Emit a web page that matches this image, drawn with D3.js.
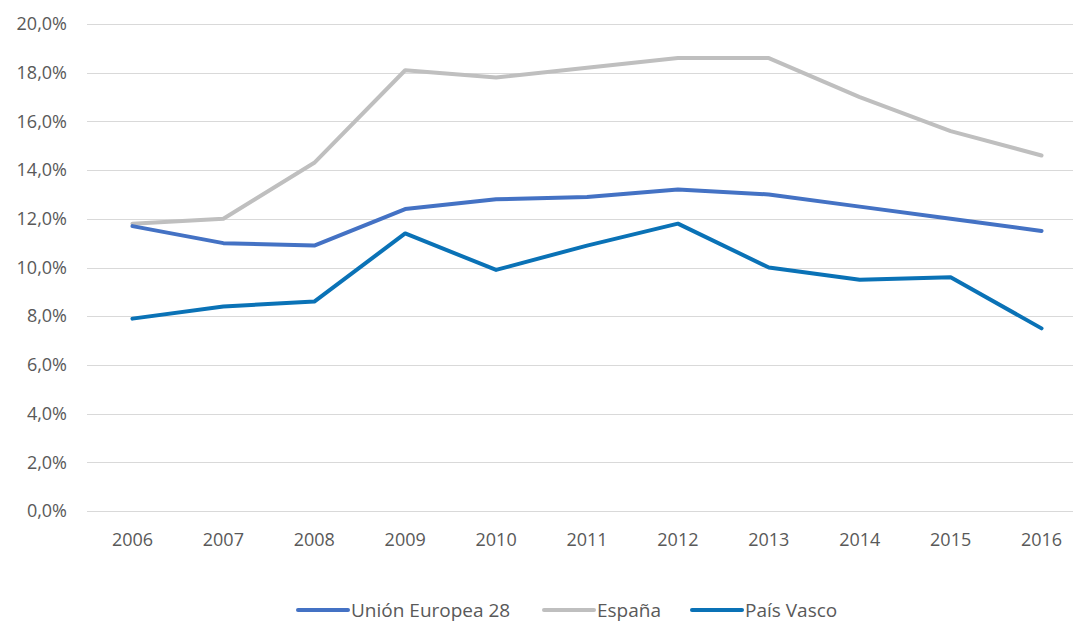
<!DOCTYPE html>
<html>
<head>
<meta charset="utf-8">
<script src="https://cdn.jsdelivr.net/npm/d3@7"></script>
<style>
    body { margin: 0; background: #fff; }
    svg { display: block; font-family: "Open Sans", "Noto Sans", sans-serif; }
</style>
</head>
<body>
<div id="chart"></div>
<script>
// Data (percent)
const years = ['2006', '2007', '2008', '2009', '2010', '2011', '2012', '2013', '2014', '2015', '2016'];
const unionEuropea = [11.7, 11.0, 10.9, 12.4, 12.8, 12.9, 13.2, 13.0, 12.5, 12.0, 11.5];
const espana = [11.8, 12.0, 14.3, 18.1, 17.8, 18.2, 18.6, 18.6, 17.0, 15.6, 14.6];
const paisVasco = [7.9, 8.4, 8.6, 11.4, 9.9, 10.9, 11.8, 10.0, 9.5, 9.6, 7.5];
const yTicks = [0, 2, 4, 6, 8, 10, 12, 14, 16, 18, 20];

const series = [
    { name: 'Unión Europea 28', values: unionEuropea, color: '#4472C4' },
    { name: 'España', values: espana, color: '#BFBFBF' },
    { name: 'País Vasco', values: paisVasco, color: '#0A72B6' }
];

const width = 1073;
const height = 624;
const plot = { left: 87, right: 1087, top: 24, bottom: 511 };

const svg = d3.select('#chart')
    .append('svg')
    .attr('width', width)
    .attr('height', height);

// Scales
const x = d3.scaleBand().domain(years).range([plot.left, plot.right]).padding(0);
const y = d3.scaleLinear().domain([0, 20]).range([plot.bottom, plot.top]);
const fmt = v => d3.format('.1f')(v).replace('.', ',') + '%';

// Gridlines
svg.append('g')
    .selectAll('line')
    .data(yTicks)
    .join('line')
    .attr('x1', plot.left)
    .attr('x2', plot.right)
    .attr('y1', d => Math.round(y(d)) + 0.5)
    .attr('y2', d => Math.round(y(d)) + 0.5)
    .attr('stroke', '#d9d9d9')
    .attr('stroke-width', 1);

// Y axis labels
const yAxis = d3.axisLeft(y).tickValues(yTicks).tickFormat(fmt).tickSize(0).tickPadding(0);
svg.append('g')
    .attr('transform', 'translate(67,0)')
    .call(yAxis)
    .call(g => g.select('.domain').remove())
    .selectAll('text')
    .attr('fill', '#595959')
    .style('font-size', '18px')
    .style('font-family', '"Open Sans", "Noto Sans", sans-serif');

// X axis labels
const xAxis = d3.axisBottom(x).tickSize(0).tickPadding(0);
svg.append('g')
    .attr('transform', 'translate(0,533)')
    .call(xAxis)
    .call(g => g.select('.domain').remove())
    .selectAll('text')
    .attr('fill', '#595959')
    .style('font-size', '18px')
    .style('font-family', '"Open Sans", "Noto Sans", sans-serif');

// Lines
const line = d3.line()
    .x((d, i) => x(years[i]) + x.bandwidth() / 2)
    .y(d => y(d));

svg.append('g')
    .selectAll('path')
    .data([series[1], series[0], series[2]])
    .join('path')
    .attr('d', d => line(d.values))
    .attr('fill', 'none')
    .attr('stroke', d => d.color)
    .attr('stroke-width', 4)
    .attr('stroke-linejoin', 'round')
    .attr('stroke-linecap', 'round');

// Legend
const legendPos = [298, 544, 692];
const legend = svg.append('g')
    .selectAll('g')
    .data(series)
    .join('g')
    .attr('transform', (d, i) => `translate(${legendPos[i]},610)`);

legend.append('line')
    .attr('x1', 0)
    .attr('x2', 50)
    .attr('stroke', d => d.color)
    .attr('stroke-width', 4)
    .attr('stroke-linecap', 'round');

legend.append('text')
    .attr('x', 53)
    .attr('dy', '0.35em')
    .attr('fill', '#595959')
    .style('font-size', '19px')
    .text(d => d.name);
</script>
</body>
</html>
